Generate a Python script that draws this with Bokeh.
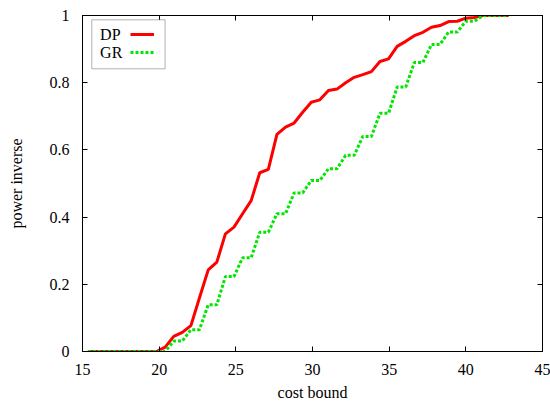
from bokeh.plotting import figure
from bokeh.models import (LinearAxis, Legend, LegendItem, Label, BoxAnnotation,
                          FixedTicker, CustomJSTickFormatter, Range1d)
from bokeh.core.properties import value
from bokeh.embed import file_html
from bokeh.resources import INLINE

cost_bound = [15.35, 15.91, 16.47, 17.03, 17.59, 18.15, 18.71, 19.27, 19.83, 20.39,
              20.95, 21.51, 22.07, 22.63, 23.20, 23.76, 24.32, 24.88, 25.44, 26.00,
              26.56, 27.12, 27.68, 28.24, 28.80, 29.36, 29.92, 30.48, 31.04, 31.60,
              32.16, 32.72, 33.28, 33.84, 34.40, 34.96, 35.52, 36.08, 36.64, 37.20,
              37.76, 38.32, 38.88, 39.44, 40.00, 40.56, 41.12, 41.68, 42.24, 42.80]
dp = [0, 0, 0, 0, 0, 0, 0, 0, 0, 0.013,
      0.045, 0.057, 0.077, 0.16, 0.243, 0.266, 0.350, 0.370, 0.41, 0.449,
      0.532, 0.542, 0.646, 0.668, 0.68, 0.712, 0.742, 0.749, 0.777, 0.781,
      0.80, 0.816, 0.824, 0.833, 0.863, 0.871, 0.908, 0.923, 0.940, 0.950,
      0.965, 0.970, 0.982, 0.983, 0.992, 0.994, 1.0, 1.0, 1.0, 1.0]
gr = [0, 0, 0, 0, 0, 0, 0, 0, 0, 0,
      0.031, 0.031, 0.065, 0.065, 0.139, 0.139, 0.223, 0.223, 0.279, 0.279,
      0.355, 0.355, 0.41, 0.41, 0.472, 0.472, 0.509, 0.509, 0.544, 0.544,
      0.584, 0.584, 0.64, 0.64, 0.709, 0.709, 0.787, 0.787, 0.860, 0.860,
      0.914, 0.914, 0.951, 0.951, 0.983, 0.983, 1.0, 1.0, 1.0, 1.0]
series_names = ["DP", "GR"]
x_ticks = [15, 20, 25, 30, 35, 40, 45]
y_ticks = [0, 0.2, 0.4, 0.6, 0.8, 1]
y_tick_labels = ["0", "0.2", "0.4", "0.6", "0.8", "1"]

FONT = "Liberation Serif"
FS = "16px"

p = figure(frame_width=460, frame_height=336, output_backend="svg",
           toolbar_location=None, x_range=Range1d(15, 45), y_range=Range1d(0, 1),
           min_border_left=82, min_border_right=8, min_border_top=15, min_border_bottom=48)
p.title.visible = False
p.background_fill_color = "white"
p.border_fill_color = "white"
p.outline_line_color = "black"
p.outline_line_width = 1
p.grid.visible = False

r_dp = p.line(cost_bound, dp, line_color="#ff0000", line_width=3)
r_gr = p.line(cost_bound, gr, line_color="#00e600", line_width=3, line_dash="3 2")

def style_axis(ax, labels=True):
    ax.axis_line_color = "black"
    ax.major_tick_line_color = "black"
    ax.major_tick_in = 5
    ax.major_tick_out = 0
    ax.minor_tick_line_color = None
    ax.major_label_text_font = FONT
    ax.major_label_text_font_size = FS
    ax.major_label_text_color = "black"
    ax.axis_label_text_font = FONT
    ax.axis_label_text_font_size = FS
    ax.axis_label_text_font_style = "normal"
    ax.axis_label_text_color = "black"
    if not labels:
        ax.formatter = CustomJSTickFormatter(code="return ''")
        ax.major_label_standoff = 0
        ax.major_label_text_font_size = "1px"

xa = p.xaxis[0]
xa.ticker = FixedTicker(ticks=x_ticks)
xa.axis_label = "cost bound"
style_axis(xa)
xa.major_label_standoff = 12
xa.axis_label_standoff = 6

ya = p.yaxis[0]
ya.ticker = FixedTicker(ticks=y_ticks)
ya.major_label_overrides = {t: s for t, s in zip(y_ticks, y_tick_labels)}
ya.axis_label = "power inverse"
style_axis(ya)
ya.major_label_standoff = 13
ya.axis_label_standoff = 22

top = LinearAxis(ticker=FixedTicker(ticks=x_ticks))
style_axis(top, labels=False)
p.add_layout(top, "above")
right = LinearAxis(ticker=FixedTicker(ticks=y_ticks))
style_axis(right, labels=False)
p.add_layout(right, "right")

# legend box (gnuplot style: text left, sample right)
box = BoxAnnotation(left=9.3, right=82.6, top=331.7, bottom=282.7,
                    left_units="screen", right_units="screen",
                    top_units="screen", bottom_units="screen",
                    fill_color="white", fill_alpha=1.0,
                    line_color="black", line_width=1)
p.add_layout(box)

legend = Legend(items=[LegendItem(label=value(""), renderers=[r_dp]),
                       LegendItem(label=value(""), renderers=[r_gr])],
                location=(48.3, 289.7), glyph_width=24, glyph_height=18,
                label_height=18, label_width=0, label_standoff=0,
                padding=0, spacing=0, margin=0,
                border_line_color=None, background_fill_alpha=0,
                label_text_font_size="1px")
p.add_layout(legend)

for name, yy in zip(series_names, [316.7, 298.7]):
    p.add_layout(Label(x=17.6, y=yy, x_units="screen", y_units="screen",
                       text=name, text_font=FONT, text_font_size=FS,
                       text_baseline="middle", text_align="left",
                       text_color="black"))

open("out.html", "w").write(file_html(p, INLINE))
